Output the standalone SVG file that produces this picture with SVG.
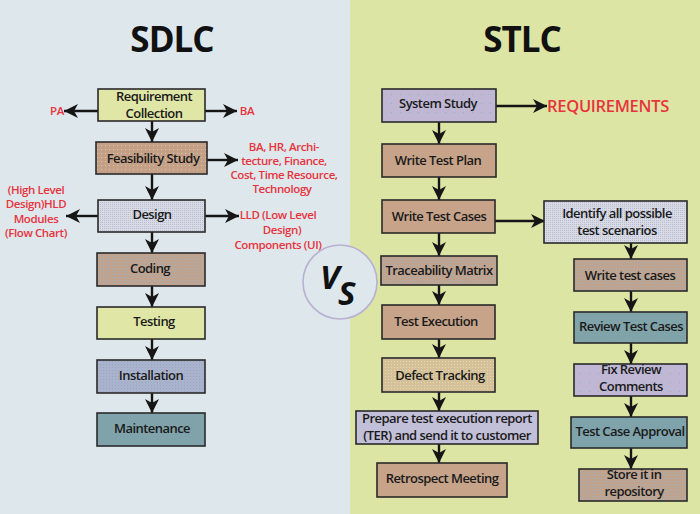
<svg xmlns="http://www.w3.org/2000/svg" width="700" height="514" viewBox="0 0 700 514">
<style>
.box{stroke:#2a2a2a;stroke-width:1.6}
.t{font-family:"Open Sans","Liberation Sans",sans-serif;font-weight:600;font-size:13px;fill:#1a1a1a;text-anchor:middle;letter-spacing:-0.55px}
.r{font-family:"Open Sans","Liberation Sans",sans-serif;font-weight:600;font-size:11.5px;fill:#e8333d;text-anchor:middle;letter-spacing:-0.4px}
.title{font-family:"Open Sans","Liberation Sans",sans-serif;font-weight:700;font-size:35px;fill:#111;text-anchor:middle;letter-spacing:-1px}
.ln{stroke:#151515;stroke-width:2.4;fill:none}
.vs{font-family:"Open Sans","Liberation Sans",sans-serif;font-weight:700;font-style:italic;font-size:33px;fill:#111}
</style>
<defs>
<marker id="ah" markerUnits="userSpaceOnUse" markerWidth="16" markerHeight="15" refX="14" refY="7" orient="auto">
<path d="M0,0 L14,7 L0,14 L4,7 z" fill="#151515"/>
</marker>
<pattern id="pTan" width="4" height="4" patternUnits="userSpaceOnUse">
<rect width="4" height="4" fill="#c4a088"/><rect x="1" y="1" width="1" height="1" fill="#d8c79a"/>
</pattern>
<pattern id="pTanBlue" width="3" height="3" patternUnits="userSpaceOnUse">
<rect width="3" height="3" fill="#bfa38e"/><rect x="1" y="1" width="1" height="1" fill="#9fb1bd"/>
</pattern>
<pattern id="pLav" width="2" height="2" patternUnits="userSpaceOnUse">
<rect width="2" height="2" fill="#d8dae6"/><rect width="1" height="1" fill="#b9bccf"/>
</pattern>
<pattern id="pInst" width="3" height="3" patternUnits="userSpaceOnUse">
<rect width="3" height="3" fill="#aab3cd"/><rect x="1" y="1" width="1" height="1" fill="#98a6c0"/>
</pattern>
<pattern id="pDef" width="3" height="3" patternUnits="userSpaceOnUse">
<rect width="3" height="3" fill="#d4c19c"/><rect x="1" y="1" width="1" height="1" fill="#e6dc9e"/>
</pattern>
<pattern id="pTeal" width="3" height="3" patternUnits="userSpaceOnUse">
<rect width="3" height="3" fill="#7fa3aa"/><rect x="1" y="1" width="1" height="1" fill="#8fa59c"/>
</pattern>
<pattern id="pPurp" width="9" height="9" patternUnits="userSpaceOnUse">
<rect width="9" height="9" fill="#bfb7d3"/><rect x="4" y="4" width="1" height="1" fill="#8fb3b8"/>
</pattern>
</defs>

<rect x="0" y="0" width="350" height="514" fill="#dde7ec"/>
<rect x="350" y="0" width="350" height="514" fill="#dce5a4"/>

<text class="title" x="172" y="52">SDLC</text>
<text class="title" x="522" y="52">STLC</text>

<g id="connectors">
<line class="ln" x1="152" y1="121" x2="152" y2="142" marker-end="url(#ah)"/>
<line class="ln" x1="152" y1="174" x2="152" y2="200" marker-end="url(#ah)"/>
<line class="ln" x1="152" y1="232" x2="152" y2="253" marker-end="url(#ah)"/>
<line class="ln" x1="152" y1="286" x2="152" y2="307" marker-end="url(#ah)"/>
<line class="ln" x1="152" y1="339" x2="152" y2="360" marker-end="url(#ah)"/>
<line class="ln" x1="152" y1="393" x2="152" y2="413" marker-end="url(#ah)"/>
<line class="ln" x1="98" y1="111" x2="64" y2="111" marker-end="url(#ah)"/>
<line class="ln" x1="205" y1="111" x2="237" y2="111" marker-end="url(#ah)"/>
<line class="ln" x1="207" y1="160" x2="238" y2="160" marker-end="url(#ah)"/>
<line class="ln" x1="98" y1="216" x2="66" y2="216" marker-end="url(#ah)"/>
<line class="ln" x1="205" y1="216" x2="239" y2="216" marker-end="url(#ah)"/>

<line class="ln" x1="439" y1="122" x2="439" y2="144" marker-end="url(#ah)"/>
<line class="ln" x1="439" y1="177" x2="439" y2="200" marker-end="url(#ah)"/>
<line class="ln" x1="439" y1="233" x2="439" y2="256" marker-end="url(#ah)"/>
<line class="ln" x1="439" y1="285" x2="439" y2="305" marker-end="url(#ah)"/>
<line class="ln" x1="439" y1="339" x2="439" y2="358" marker-end="url(#ah)"/>
<line class="ln" x1="439" y1="392" x2="439" y2="411" marker-end="url(#ah)"/>
<line class="ln" x1="439" y1="444" x2="439" y2="463" marker-end="url(#ah)"/>
<line class="ln" x1="496" y1="106" x2="547" y2="106" marker-end="url(#ah)"/>
<line class="ln" x1="495" y1="221" x2="545" y2="221" marker-end="url(#ah)"/>

<line class="ln" x1="631" y1="243" x2="631" y2="259" marker-end="url(#ah)"/>
<line class="ln" x1="631" y1="291" x2="631" y2="312" marker-end="url(#ah)"/>
<line class="ln" x1="631" y1="343" x2="631" y2="364" marker-end="url(#ah)"/>
<line class="ln" x1="631" y1="396" x2="631" y2="417" marker-end="url(#ah)"/>
<line class="ln" x1="631" y1="448" x2="631" y2="469" marker-end="url(#ah)"/>
</g>

<g id="labels">
<text class="r" x="57" y="115">PA</text>
<text class="r" x="247" y="115">BA</text>
<text class="r" x="284" y="151">BA, HR, Archi-</text>
<text class="r" x="284" y="165">tecture, Finance,</text>
<text class="r" x="284" y="179">Cost, Time Resource,</text>
<text class="r" x="282" y="193">Technology</text>
<text class="r" x="36" y="194">(High Level</text>
<text class="r" x="36" y="208">Design)HLD</text>
<text class="r" x="36" y="223">Modules</text>
<text class="r" x="36" y="237">(Flow Chart)</text>
<text class="r" x="278" y="219">LLD (Low Level</text>
<text class="r" x="282" y="234">Design)</text>
<text class="r" x="278" y="249">Components (UI)</text>
<text class="r" x="608" y="112" style="font-size:16.5px;letter-spacing:-0.3px">REQUIREMENTS</text>
</g>

<g id="sdlc-req"><rect class="box" x="98" y="89" width="107" height="32" fill="#e0e7a6"/><text class="t" x="154" y="101">Requirement</text><text class="t" x="154" y="118">Collection</text></g>
<g id="sdlc-feas"><rect class="box" x="96" y="142" width="111" height="32" fill="url(#pTan)"/><text class="t" x="153" y="163">Feasibility Study</text></g>
<g id="sdlc-design"><rect class="box" x="98" y="200" width="107" height="32" fill="url(#pLav)"/><text class="t" x="152" y="219">Design</text></g>
<g id="sdlc-coding"><rect class="box" x="97" y="253" width="108" height="33" fill="url(#pTanBlue)"/><text class="t" x="150" y="273">Coding</text></g>
<g id="sdlc-testing"><rect class="box" x="97" y="307" width="108" height="32" fill="#e0e7a6"/><text class="t" x="154" y="326">Testing</text></g>
<g id="sdlc-install"><rect class="box" x="97" y="360" width="108" height="33" fill="url(#pInst)"/><text class="t" x="151" y="380">Installation</text></g>
<g id="sdlc-maint"><rect class="box" x="97" y="413" width="108" height="33" fill="#80a3ab"/><text class="t" x="152" y="433">Maintenance</text></g>

<g id="stlc-system"><rect class="box" x="382" y="89" width="114" height="33" fill="url(#pPurp)"/><text class="t" x="438" y="108">System Study</text></g>
<g id="stlc-plan"><rect class="box" x="382" y="144" width="114" height="33" fill="#c6a389"/><text class="t" x="438" y="165">Write Test Plan</text></g>
<g id="stlc-cases"><rect class="box" x="382" y="200" width="113" height="33" fill="#c6a389"/><text class="t" x="439" y="221">Write Test Cases</text></g>
<g id="stlc-trace"><rect class="box" x="381" y="256" width="116" height="29" fill="url(#pTanBlue)"/><text class="t" x="439" y="275">Traceability Matrix</text></g>
<g id="stlc-exec"><rect class="box" x="382" y="305" width="113" height="34" fill="#c6a389"/><text class="t" x="436" y="326">Test Execution</text></g>
<g id="stlc-defect"><rect class="box" x="382" y="358" width="113" height="34" fill="url(#pDef)"/><text class="t" x="440" y="380">Defect Tracking</text></g>
<g id="stlc-report"><rect class="box" x="356" y="411" width="182" height="33" fill="#c2bfd9"/><text class="t" x="447" y="423">Prepare test execution report</text><text class="t" x="447" y="440">(TER) and send it to customer</text></g>
<g id="stlc-retro"><rect class="box" x="377" y="463" width="130" height="34" fill="#c6a389"/><text class="t" x="442" y="483">Retrospect Meeting</text></g>

<g id="stlc-identify"><rect class="box" x="544" y="201" width="143" height="42" fill="url(#pLav)"/><text class="t" x="617" y="218">Identify all possible</text><text class="t" x="617" y="235">test scenarios</text></g>
<g id="stlc-write"><rect class="box" x="574" y="259" width="113" height="32" fill="url(#pTanBlue)"/><text class="t" x="630" y="280">Write test cases</text></g>
<g id="stlc-review"><rect class="box" x="574" y="312" width="113" height="31" fill="url(#pTeal)"/><text class="t" x="631" y="331">Review Test Cases</text></g>
<g id="stlc-fix"><rect class="box" x="574" y="364" width="113" height="32" fill="url(#pPurp)"/><text class="t" x="631" y="374">Fix Review</text><text class="t" x="631" y="391">Comments</text></g>
<g id="stlc-approval"><rect class="box" x="571" y="417" width="116" height="31" fill="#7fa3ab"/><text class="t" x="630" y="436">Test Case Approval</text></g>
<g id="stlc-store"><rect class="box" x="579" y="469" width="108" height="32" fill="url(#pTanBlue)"/><text class="t" x="634" y="479">Store it in</text><text class="t" x="634" y="496">repository</text></g>

<g id="vs">
<circle cx="340" cy="282" r="37" fill="#dde7ec" stroke="#b8b0d2" stroke-width="1.6"/>
<text class="vs" x="320" y="289">V</text>
<text class="vs" x="338" y="305">S</text>
</g>
</svg>
